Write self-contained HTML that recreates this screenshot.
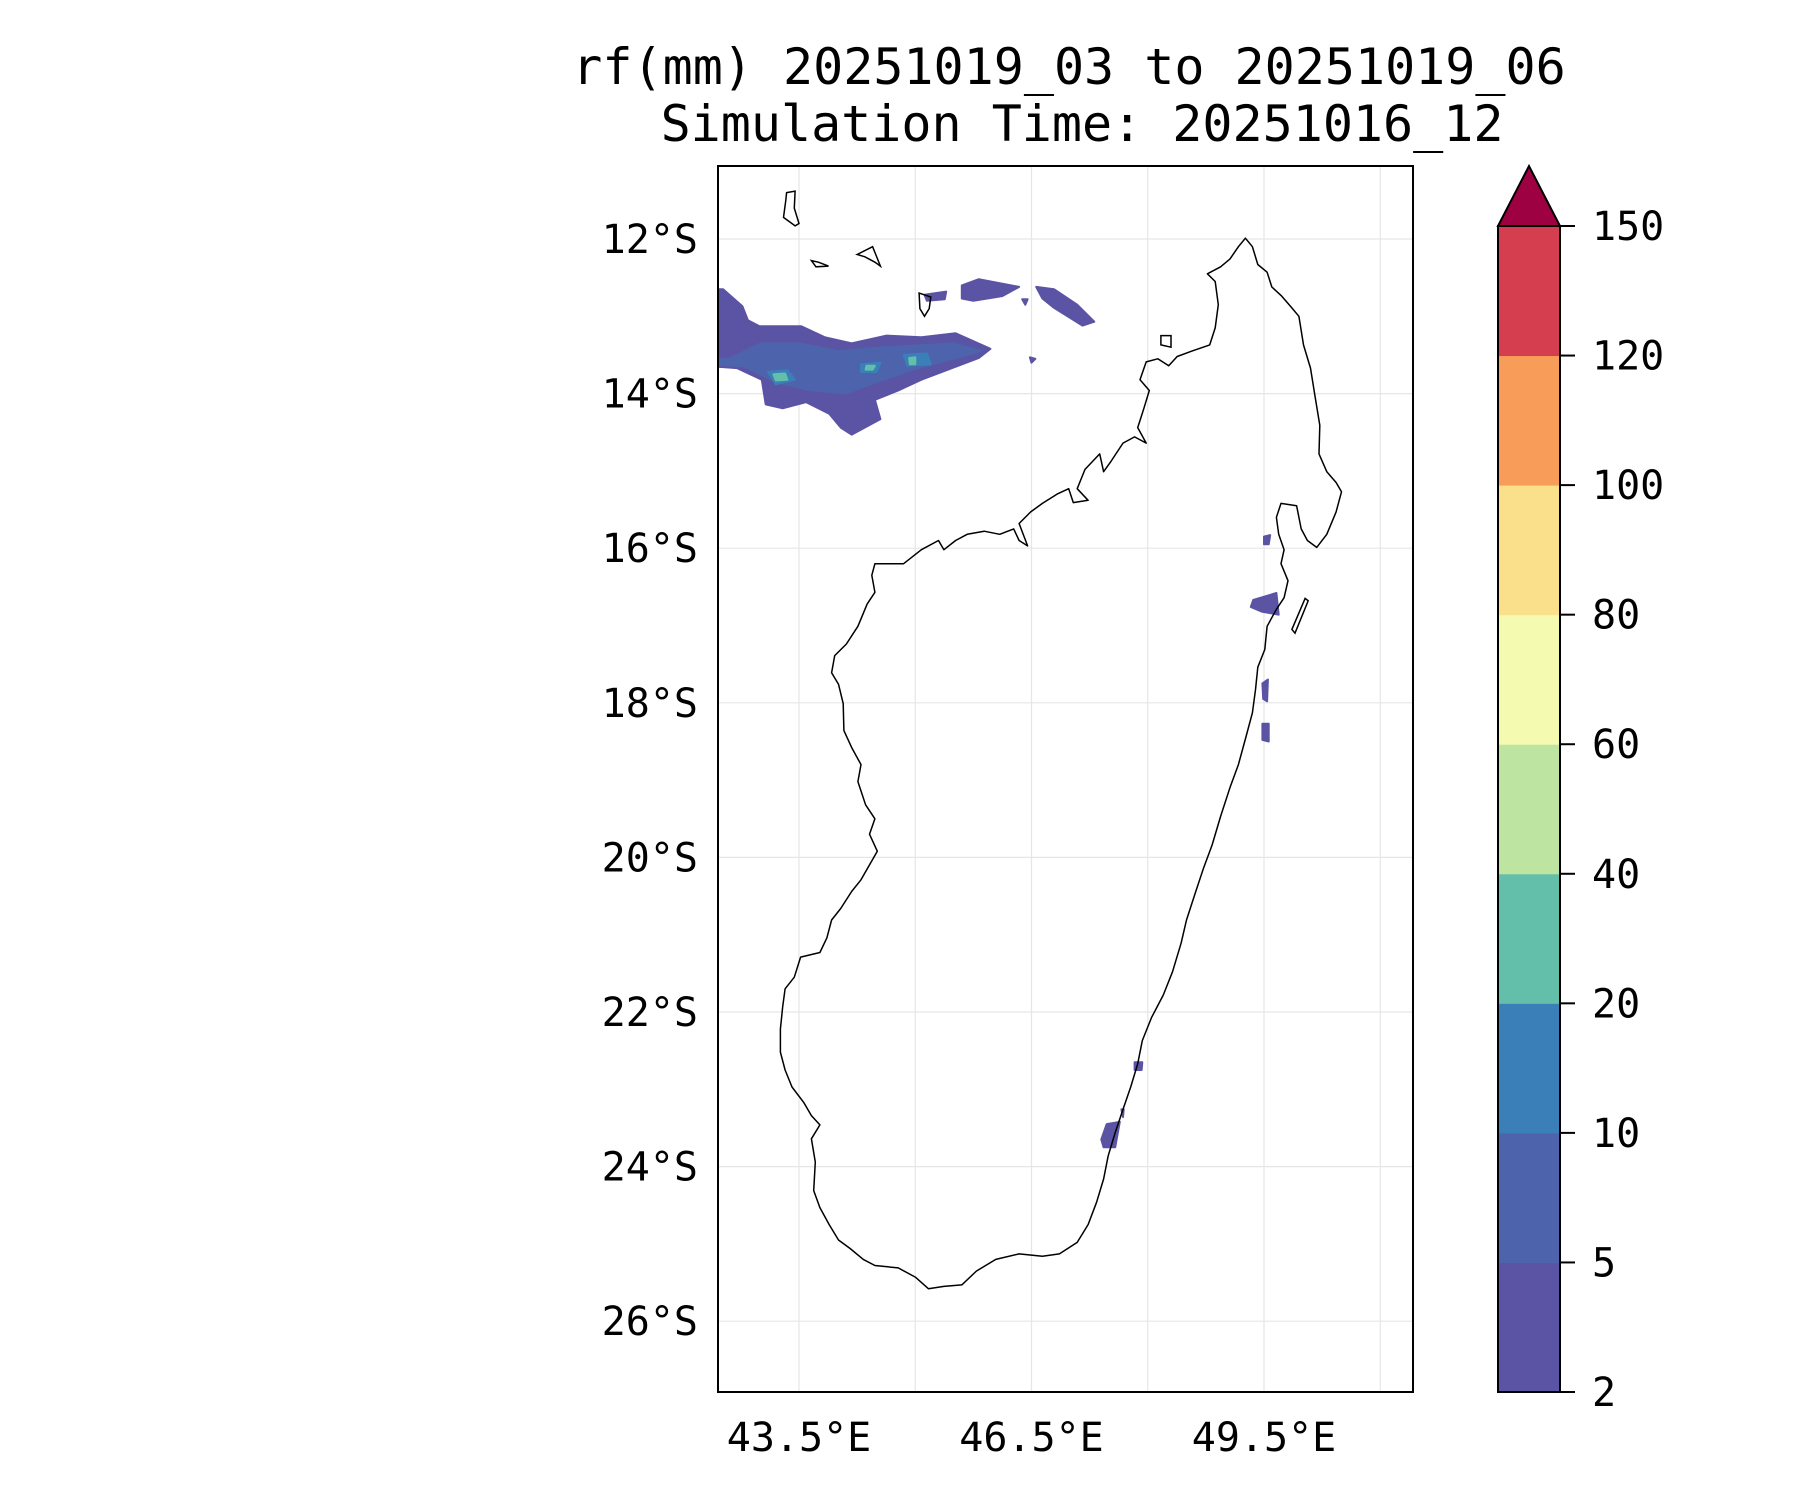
<!DOCTYPE html>
<html><head><meta charset="utf-8"><style>
html,body{margin:0;padding:0;background:#fff;}
svg text{font-family:"DejaVu Sans Mono","Liberation Mono",monospace;fill:#000;}
</style></head><body>
<svg id="fig" width="1800" height="1500" viewBox="0 0 1800 1500" xmlns="http://www.w3.org/2000/svg">
<rect width="1800" height="1500" fill="#fff"/>
<text x="1069" y="84" font-size="50" text-anchor="middle">rf(mm) 20251019_03 to 20251019_06</text>
<text x="1082" y="141" font-size="50" text-anchor="middle">Simulation Time: 20251016_12</text>
<defs><clipPath id="axclip"><rect x="718" y="166" width="695" height="1226"/></clipPath></defs>
<g id="grid"></g>
<g id="rain" clip-path="url(#axclip)"></g>
<g id="coast" clip-path="url(#axclip)"></g>
<rect x="718" y="166" width="695" height="1226" fill="none" stroke="#000" stroke-width="2"/>
<g id="ticks"></g>
<g id="cbar"></g>
</svg>
<script>
const latTicks=[12,14,16,18,20,22,24,26];
const lonTicks=[43.5,45,46.5,48,49.5,51];
const lonLabels=[43.5,46.5,49.5];
const levels=[2,5,10,20,40,60,80,100,120,150];
const levelColors=["#5b53a4","#4d64ac","#3a7fb8","#63bfaa","#bde4a0","#f4fab0","#fbe08c","#f89d59","#d53e4f"];
const extendColor="#9e0142";
const coast=[[49.26,11.99],[49.35,12.10],[49.42,12.33],[49.54,12.43],[49.60,12.62],[49.73,12.74],[49.85,12.88],[49.95,13.00],[50.01,13.37],[50.10,13.67],[50.16,14.04],[50.22,14.41],[50.21,14.78],[50.31,15.01],[50.43,15.15],[50.50,15.27],[50.43,15.53],[50.31,15.82],[50.18,15.99],[50.06,15.90],[49.98,15.75],[49.92,15.45],[49.72,15.42],[49.66,15.60],[49.69,15.82],[49.76,16.02],[49.72,16.20],[49.81,16.42],[49.76,16.64],[49.66,16.79],[49.54,17.01],[49.51,17.31],[49.42,17.54],[49.39,17.83],[49.35,18.13],[49.27,18.43],[49.17,18.80],[49.06,19.10],[48.94,19.47],[48.83,19.84],[48.72,20.14],[48.62,20.44],[48.50,20.81],[48.43,21.11],[48.32,21.48],[48.20,21.78],[48.05,22.07],[47.93,22.37],[47.87,22.67],[47.78,22.97],[47.68,23.26],[47.58,23.56],[47.49,23.86],[47.43,24.16],[47.34,24.46],[47.23,24.75],[47.09,24.98],[46.86,25.13],[46.64,25.16],[46.34,25.13],[46.04,25.20],[45.79,25.35],[45.60,25.53],[45.37,25.55],[45.17,25.58],[45.00,25.43],[44.78,25.31],[44.48,25.28],[44.33,25.20],[44.16,25.06],[44.01,24.95],[43.89,24.75],[43.77,24.53],[43.69,24.31],[43.71,23.94],[43.66,23.64],[43.77,23.46],[43.66,23.34],[43.56,23.17],[43.41,22.97],[43.32,22.75],[43.26,22.52],[43.26,22.22],[43.29,21.93],[43.32,21.70],[43.44,21.55],[43.52,21.29],[43.77,21.23],[43.86,21.04],[43.92,20.81],[44.04,20.66],[44.18,20.44],[44.30,20.29],[44.51,19.92],[44.41,19.70],[44.48,19.50],[44.36,19.32],[44.26,19.02],[44.30,18.80],[44.18,18.58],[44.08,18.36],[44.07,18.01],[44.01,17.76],[43.92,17.61],[43.96,17.39],[44.11,17.24],[44.26,17.01],[44.38,16.72],[44.48,16.57],[44.44,16.35],[44.48,16.20],[44.85,16.20],[45.08,16.02],[45.30,15.90],[45.37,16.02],[45.52,15.90],[45.67,15.82],[45.89,15.78],[46.09,15.82],[46.27,15.75],[46.34,15.90],[46.45,15.97],[46.34,15.68],[46.49,15.53],[46.64,15.42],[46.83,15.30],[46.98,15.23],[47.04,15.41],[47.23,15.38],[47.09,15.23],[47.19,14.98],[47.38,14.78],[47.43,15.01],[47.53,14.87],[47.68,14.64],[47.83,14.56],[47.98,14.64],[47.87,14.44],[47.95,14.19],[48.02,13.96],[47.90,13.82],[47.98,13.59],[48.13,13.55],[48.27,13.64],[48.38,13.52],[48.57,13.45],[48.80,13.37],[48.87,13.15],[48.91,12.85],[48.87,12.55],[48.77,12.45],[48.94,12.36],[49.06,12.26],[49.17,12.10]];
const islands=[
[[43.34,11.40],[43.45,11.38],[43.44,11.60],[43.50,11.80],[43.45,11.83],[43.30,11.72],[43.33,11.50]],
[[43.66,12.28],[43.75,12.30],[43.88,12.35],[43.72,12.36]],
[[44.25,12.20],[44.45,12.10],[44.55,12.35],[44.48,12.30],[44.35,12.23]],
[[45.05,12.70],[45.20,12.75],[45.18,12.90],[45.12,13.00],[45.06,12.90]],
[[48.17,13.25],[48.30,13.25],[48.30,13.40],[48.17,13.37]],
[[50.03,16.65],[50.07,16.68],[49.90,17.10],[49.86,17.05]]];
const rainLevel=[0,1,2,2,2,3,3,3,0,0,0,0,0,0,0,0,0,0,0,0];
const rainPolys=[
[[42.30,12.65],[42.52,12.65],[42.77,12.87],[42.84,13.05],[42.99,13.13],[43.53,13.13],[43.83,13.27],[44.18,13.35],[44.63,13.25],[45.08,13.27],[45.52,13.22],[45.97,13.42],[45.82,13.54],[45.08,13.82],[44.78,13.96],[44.48,14.08],[44.55,14.33],[44.18,14.53],[44.04,14.44],[43.89,14.26],[43.59,14.11],[43.29,14.19],[43.07,14.14],[43.02,13.82],[42.70,13.67],[42.30,13.64]],
[[42.30,13.55],[42.6,13.55],[43.0,13.35],[43.5,13.35],[44.0,13.45],[44.6,13.40],[45.5,13.35],[45.85,13.45],[45.0,13.68],[44.5,13.85],[44.1,14.0],[43.6,13.95],[43.2,13.85],[42.8,13.65],[42.30,13.62]],
[[43.1,13.72],[43.35,13.70],[43.45,13.82],[43.2,13.88]],
[[44.30,13.62],[44.55,13.60],[44.5,13.72],[44.3,13.72]],
[[44.85,13.50],[45.15,13.48],[45.2,13.62],[44.9,13.64]],
[[43.17,13.75],[43.32,13.74],[43.35,13.82],[43.2,13.83]],
[[44.37,13.64],[44.48,13.64],[44.45,13.69],[44.36,13.69]],
[[44.92,13.54],[45.0,13.53],[45.0,13.62],[44.93,13.62]],
[[45.60,12.60],[45.82,12.52],[46.34,12.62],[46.12,12.74],[45.75,12.80],[45.60,12.77]],
[[46.56,12.62],[46.79,12.65],[47.09,12.85],[47.31,13.07],[47.16,13.12],[46.79,12.89],[46.64,12.77]],
[[45.12,12.72],[45.40,12.68],[45.38,12.78],[45.15,12.80]],
[[46.38,12.78],[46.45,12.78],[46.42,12.85]],
[[46.48,13.53],[46.55,13.55],[46.50,13.60]],
[[49.36,16.67],[49.66,16.58],[49.69,16.86],[49.47,16.82],[49.33,16.76]],
[[49.50,15.85],[49.58,15.83],[49.56,15.95],[49.50,15.95]],
[[49.48,17.75],[49.55,17.70],[49.54,17.98],[49.49,17.95]],
[[49.48,18.27],[49.56,18.27],[49.56,18.50],[49.48,18.48]],
[[47.83,22.65],[47.93,22.65],[47.92,22.75],[47.83,22.75]],
[[47.47,23.45],[47.64,23.42],[47.58,23.75],[47.43,23.75],[47.40,23.65]],
[[47.66,23.26],[47.69,23.26],[47.68,23.36]]];

const NS="http://www.w3.org/2000/svg";
const X=lon=>799+(lon-43.5)*77.5;
const Y=lat=>239+(lat-12)*77.3;
const AX={l:718,t:166,r:1413,b:1392};
const CB={l:1498,r:1560,t:226,b:1392,apex:166};
const cbY=i=>CB.b-i*(CB.b-CB.t)/(levels.length-1);
function mk(tag,attrs,parent){const e=document.createElementNS(NS,tag);for(const k in attrs)e.setAttribute(k,attrs[k]);parent.appendChild(e);return e;}
const pts=p=>p.map(q=>X(q[0]).toFixed(1)+","+Y(q[1]).toFixed(1)).join(" ");

const grid=document.getElementById('grid');
latTicks.forEach(v=>{const l=mk('line',{x1:AX.l,x2:AX.r,y1:Y(v),y2:Y(v),stroke:'#e6e6e6','stroke-width':1.2},grid);

});
lonTicks.forEach(v=>{const l=mk('line',{x1:X(v),x2:X(v),y1:AX.t,y2:AX.b,stroke:'#e6e6e6','stroke-width':1.2},grid);

});

const rain=document.getElementById('rain');
rainPolys.forEach((p,i)=>{const e=mk('polygon',{points:pts(p),fill:levelColors[rainLevel[i]],stroke:levelColors[rainLevel[i]],'stroke-width':2,'stroke-linejoin':'round'},rain);

});

const coastG=document.getElementById('coast');
const c=mk('polygon',{points:pts(coast),fill:'none',stroke:'#000','stroke-width':1.5,'stroke-linejoin':'round'},coastG);


islands.forEach(p=>{const e=mk('polygon',{points:pts(p),fill:'none',stroke:'#000','stroke-width':1.5},coastG);

});

const ticks=document.getElementById('ticks');
latTicks.forEach(v=>{const t=mk('text',{x:698,y:Y(v)+14,'font-size':40,'text-anchor':'end'},ticks);t.textContent=v+'°S';

});
lonLabels.forEach(v=>{const t=mk('text',{x:X(v),y:1451,'font-size':40,'text-anchor':'middle'},ticks);t.textContent=v.toFixed(1)+'°E';

});

const cb=document.getElementById('cbar');
levelColors.forEach((col,i)=>{const r=mk('rect',{x:CB.l,y:cbY(i+1),width:CB.r-CB.l,height:cbY(i)-cbY(i+1)+0.5,fill:col},cb);

});
const tri=mk('polygon',{points:`${CB.l},${CB.t} ${CB.r},${CB.t} ${(CB.l+CB.r)/2},${CB.apex}`,fill:extendColor,stroke:'#000','stroke-width':2},cb);


const fr=mk('rect',{x:CB.l,y:CB.t,width:CB.r-CB.l,height:CB.b-CB.t,fill:'none',stroke:'#000','stroke-width':2},cb);


levels.forEach((v,i)=>{const y=cbY(i);
const tk=mk('line',{x1:CB.r,x2:CB.r+15,y1:y,y2:y,stroke:'#000','stroke-width':2},cb);


const t=mk('text',{x:1592,y:y+14,'font-size':40},cb);t.textContent=v;

});
</script>
</body></html>
